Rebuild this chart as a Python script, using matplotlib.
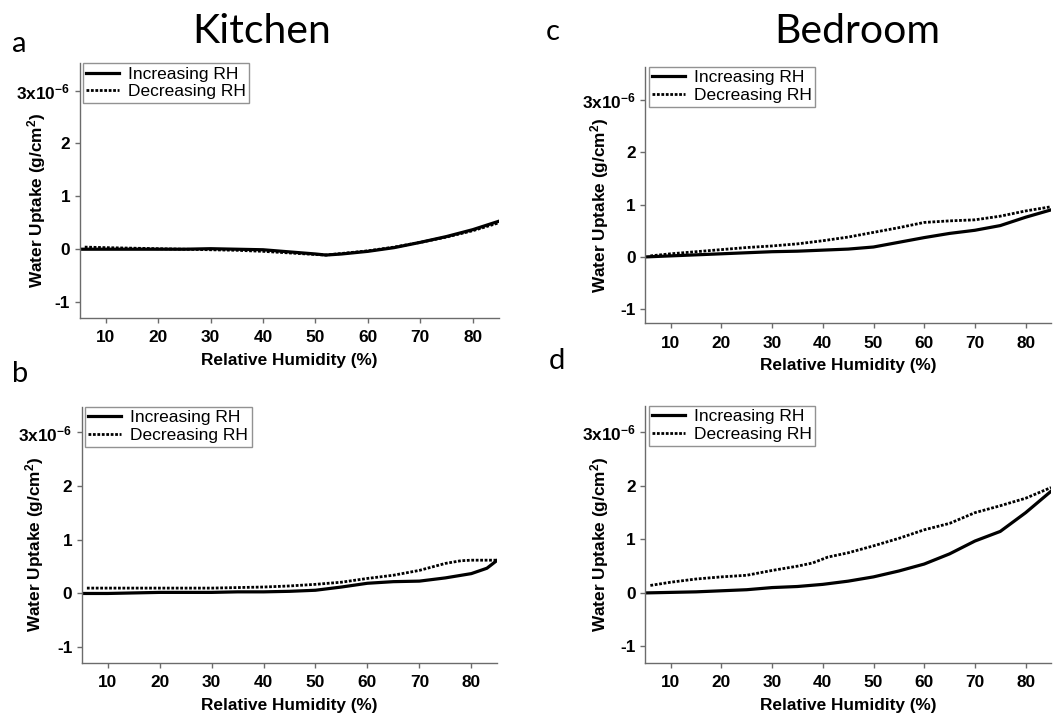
import matplotlib
matplotlib.use("Agg")
import matplotlib.pyplot as plt

# DATOS (water uptake en unidades de 1e-6 g/cm2)

rh_a_inc = [5, 10, 15, 20, 25, 30, 35, 40, 45, 50, 52, 55, 60, 65, 70, 75, 80, 85]
up_a_inc = [0, 0, 0, 0, 0, 0.01, 0, -0.01, -0.05, -0.09, -0.11, -0.09, -0.04, 0.03, 0.13, 0.24, 0.37, 0.53]
rh_a_dec = [6, 10, 15, 20, 25, 30, 35, 40, 45, 50, 52, 55, 60, 65, 70, 75, 80, 85]
up_a_dec = [0.04, 0.03, 0.02, 0.01, 0, -0.01, -0.02, -0.04, -0.07, -0.1, -0.11, -0.08, -0.03, 0.04, 0.13, 0.23, 0.35, 0.50]

rh_b_inc = [5, 10, 15, 20, 25, 30, 35, 40, 45, 50, 55, 60, 65, 70, 75, 80, 83, 85]
up_b_inc = [0, 0, 0.01, 0.02, 0.02, 0.02, 0.03, 0.03, 0.04, 0.06, 0.12, 0.19, 0.22, 0.23, 0.29, 0.37, 0.47, 0.62]
rh_b_dec = [6, 10, 15, 20, 25, 30, 35, 40, 45, 50, 55, 60, 65, 70, 75, 78, 80, 85]
up_b_dec = [0.10, 0.10, 0.10, 0.10, 0.10, 0.10, 0.11, 0.12, 0.14, 0.17, 0.21, 0.28, 0.34, 0.43, 0.56, 0.61, 0.62, 0.62]

rh_c_inc = [5, 10, 15, 20, 25, 30, 35, 40, 45, 50, 55, 60, 65, 70, 75, 80, 85]
up_c_inc = [0, 0.02, 0.04, 0.06, 0.08, 0.10, 0.11, 0.13, 0.15, 0.19, 0.28, 0.37, 0.45, 0.51, 0.60, 0.76, 0.90]
rh_c_dec = [6, 10, 15, 20, 25, 30, 35, 40, 45, 50, 55, 60, 65, 70, 75, 80, 85]
up_c_dec = [0.02, 0.06, 0.10, 0.14, 0.18, 0.21, 0.25, 0.31, 0.38, 0.47, 0.56, 0.66, 0.69, 0.71, 0.78, 0.88, 0.96]

rh_d_inc = [5, 10, 15, 20, 25, 30, 35, 40, 45, 50, 55, 60, 65, 70, 75, 80, 85]
up_d_inc = [0, 0.01, 0.02, 0.04, 0.06, 0.10, 0.12, 0.16, 0.22, 0.30, 0.41, 0.54, 0.73, 0.97, 1.15, 1.50, 1.90]
rh_d_dec = [6, 10, 15, 20, 25, 30, 35, 38, 41, 45, 50, 55, 60, 65, 70, 75, 80, 85]
up_d_dec = [0.14, 0.20, 0.26, 0.30, 0.33, 0.42, 0.50, 0.56, 0.67, 0.75, 0.88, 1.02, 1.18, 1.30, 1.50, 1.63, 1.77, 1.97]

x_ticks = [10, 20, 30, 40, 50, 60, 70, 80]
y_ticks = [-1, 0, 1, 2, 3]
y_tick_labels = ["-1", "0", "1", "2", "3x10$^{-6}$"]

# ESTILO

plt.rcParams["font.family"] = "Liberation Sans"
plt.rcParams["mathtext.fontset"] = "custom"
plt.rcParams["mathtext.rm"] = "Liberation Sans:bold"
plt.rcParams["mathtext.it"] = "Liberation Sans:bold"
plt.rcParams["mathtext.bf"] = "Liberation Sans:bold"

W, H = 1056, 718
fig = plt.figure(figsize=(W / 100, H / 100), dpi=100)

# posiciones en pixeles: izquierda, derecha, arriba, abajo, centro etiqueta y
paneles = [
    (79.5, 499, 63, 318, 37, -1.30, 3.52, rh_a_inc, up_a_inc, rh_a_dec, up_a_dec),
    (81.7, 497.3, 406.7, 662.7, 34.5, -1.29, 3.48, rh_b_inc, up_b_inc, rh_b_dec, up_b_dec),
    (645.3, 1051, 66.7, 323.3, 599.5, -1.27, 3.64, rh_c_inc, up_c_inc, rh_c_dec, up_c_dec),
    (645.3, 1051, 405.7, 663, 599.5, -1.31, 3.50, rh_d_inc, up_d_inc, rh_d_dec, up_d_dec),
]

gris = "#6b6b6b"
tam = 12.4

for izq, der, arr, aba, ylab_x, y0, y1, rx_i, up_i, rx_d, up_d in paneles:
    ancho = der - izq
    alto = aba - arr
    ax = fig.add_axes([izq / W, 1 - aba / H, ancho / W, alto / H])

    ax.plot(rx_i, up_i, color="black", lw=2.3, label="Increasing RH")
    ax.plot(rx_d, up_d, color="black", lw=2.0, linestyle=(0, (1, 0.6)),
            label="Decreasing RH")

    ax.set_xlim(5, 85)
    ax.set_ylim(y0, y1)

    ax.set_xticks(x_ticks)
    ax.set_xticklabels([str(t) for t in x_ticks], fontweight="bold", fontsize=tam)
    ax.set_yticks(y_ticks)
    ax.set_yticklabels(y_tick_labels, fontweight="bold", fontsize=tam)

    ax.spines["top"].set_visible(False)
    ax.spines["right"].set_visible(False)
    for lado in ["left", "bottom"]:
        ax.spines[lado].set_color(gris)
        ax.spines[lado].set_linewidth(1)
    ax.tick_params(direction="out", length=3.8, width=1, color=gris, pad=3)
    ax.tick_params(axis="x", pad=5)

    ax.set_xlabel("Relative Humidity (%)", fontweight="bold", fontsize=tam)
    ax.xaxis.set_label_coords(0.5, -35 / alto)
    ax.set_ylabel("Water Uptake (g/cm$^{2}$)", fontweight="bold", fontsize=tam,
                  va="center")
    ax.yaxis.set_label_coords(-(izq - ylab_x) / ancho, 0.5 - 10 / alto)

    leg = ax.legend(loc="upper left", bbox_to_anchor=(0.008, 1.0),
                    borderaxespad=0, fontsize=12.5, frameon=True, fancybox=False,
                    handlelength=1.9, handletextpad=0.5, labelspacing=0.15,
                    borderpad=0.2)
    leg.get_frame().set_edgecolor("#777777")
    leg.get_frame().set_linewidth(1)

# TITULOS Y LETRAS

fig.text(262 / W, 1 - 43.3 / H, "Kitchen", family="Lato", fontsize=29.5,
         ha="center", va="baseline")
fig.text(857.5 / W, 1 - 43.3 / H, "Bedroom", family="Lato", fontsize=29.5,
         ha="center", va="baseline")

fig.text(12 / W, 1 - 51.7 / H, "a", family="Lato", fontsize=21, va="baseline")
fig.text(12 / W, 1 - 381.7 / H, "b", family="Lato", fontsize=21, va="baseline")
fig.text(546 / W, 1 - 40 / H, "c", family="Lato", fontsize=21, va="baseline")
fig.text(549 / W, 1 - 369 / H, "d", family="Lato", fontsize=21, va="baseline")

fig.savefig("out.png", dpi=100)
plt.close()
